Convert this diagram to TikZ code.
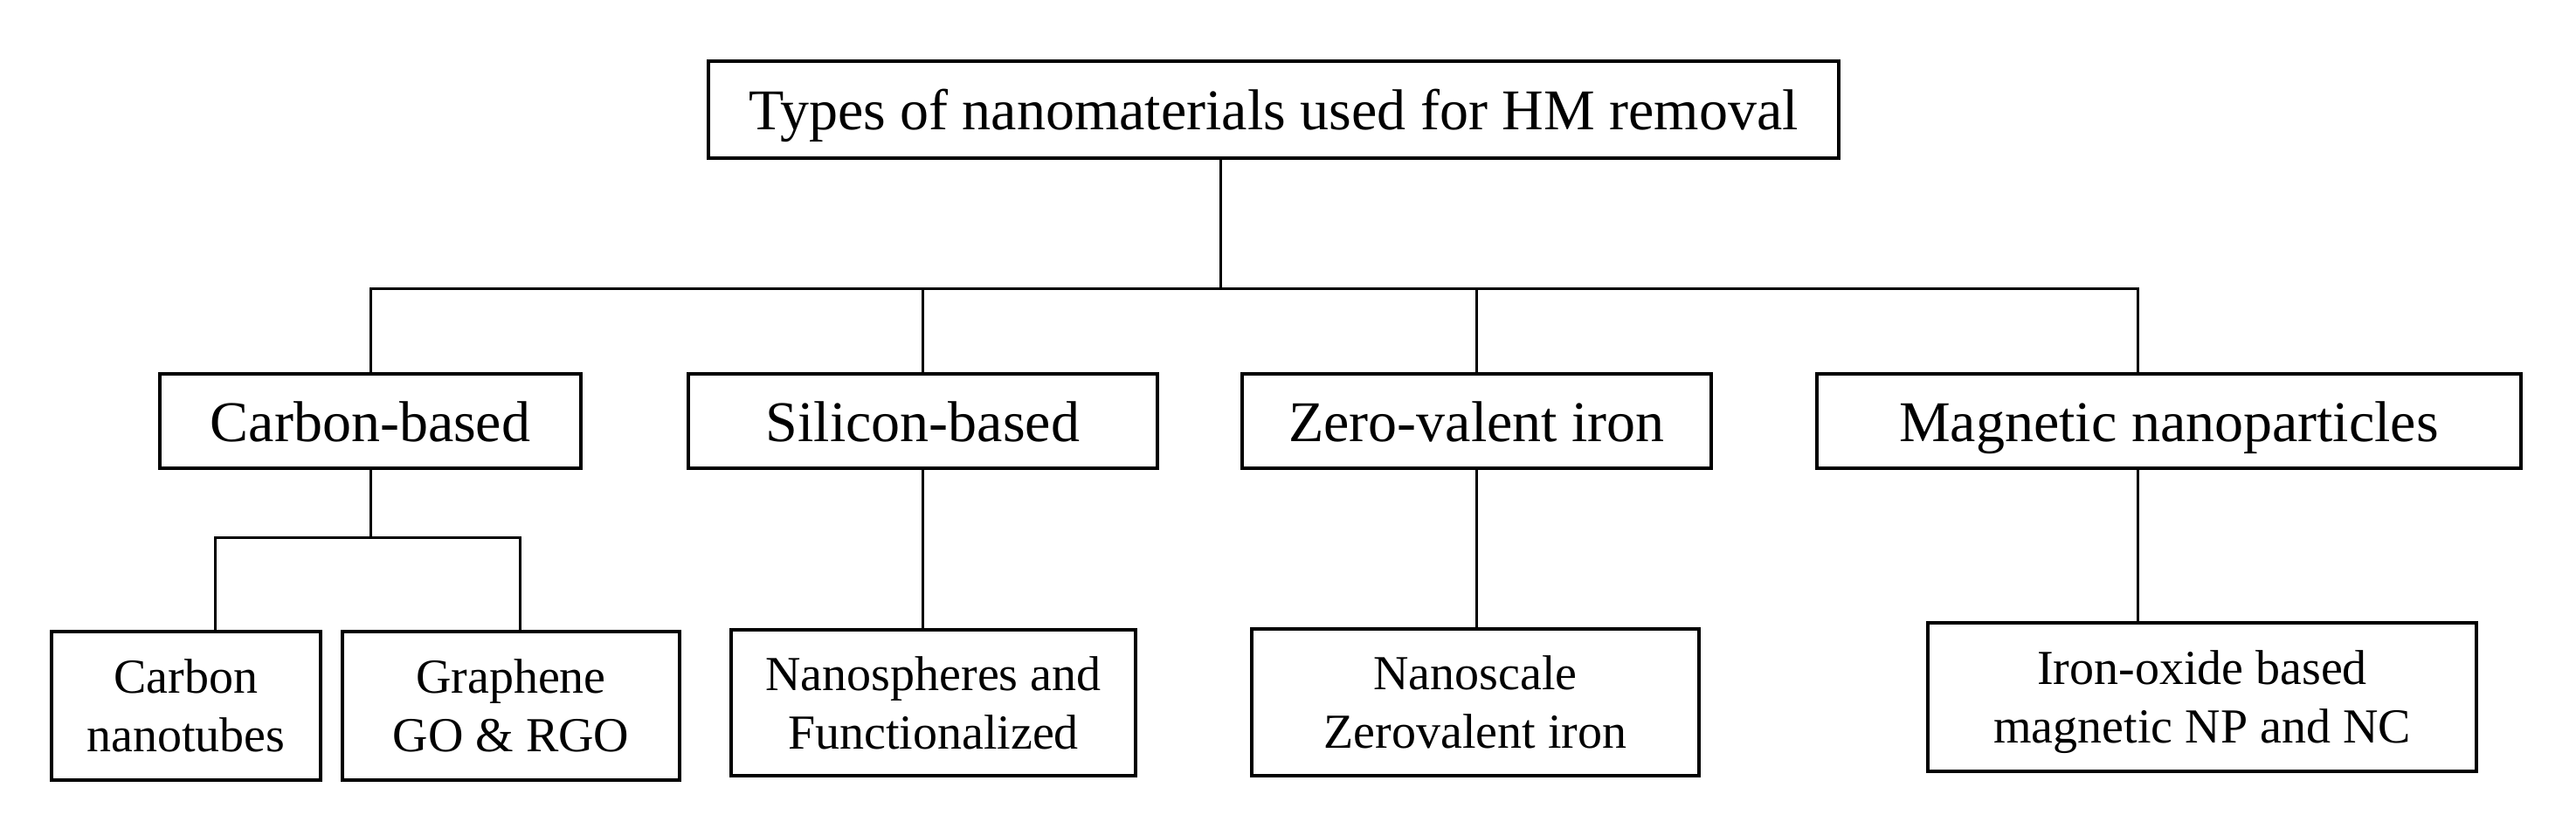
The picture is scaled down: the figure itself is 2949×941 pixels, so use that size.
\documentclass[tikz,border=0pt]{standalone}
\usepackage{fontspec}
\setmainfont{Liberation Serif}
\begin{document}
\begin{tikzpicture}[x=1pt,y=-1pt,
  box/.style={draw, line width=3.5pt, inner sep=0pt, align=center},
  big/.style={box, font=\fontsize{66}{70}\selectfont, text height=52pt, text depth=6pt},
  small/.style={box, font=\fontsize{56}{67}\selectfont},
  link/.style={line width=3pt}]
\useasboundingbox (0,0) rectangle (2949,941);
\node[big, minimum width=1294pt, minimum height=111pt] (title) at (1458,125.5) {Types of nanomaterials used for HM removal};
\node[big, minimum width=482pt, minimum height=108pt] (carbon) at (424,482) {Carbon-based};
\node[big, minimum width=537pt, minimum height=108pt] (silicon) at (1056.5,482) {Silicon-based};
\node[big, minimum width=537pt, minimum height=108pt] (zero) at (1690.5,482) {Zero-valent iron};
\node[big, minimum width=806pt, minimum height=108pt] (magnetic) at (2483,482) {Magnetic nanoparticles};
\node[small, minimum width=308pt, minimum height=170pt] (cnt) at (213,808) {Carbon\\nanotubes};
\node[small, minimum width=386pt, minimum height=170pt] (graphene) at (585,808) {Graphene\\GO \& RGO};
\node[small, minimum width=463pt, minimum height=167pt] (nanosph) at (1068.5,804.5) {Nanospheres and\\Functionalized};
\node[small, minimum width=512pt, minimum height=168pt] (nzvi) at (1689,804) {Nanoscale\\Zerovalent iron};
\node[small, minimum width=628pt, minimum height=170pt, text depth=0pt] (ironox) at (2521,798) {Iron-oxide based\\magnetic NP and NC};
\coordinate (j0) at (1397,330);
\coordinate (barR) at (2447,330);
\coordinate (cj) at (423,615);
\coordinate (cl) at (246,615);
\coordinate (cr) at (595,615);
\draw[link] (title.south -| j0) -- (j0);
\draw[link] (carbon.north) |- (barR) -- (barR |- magnetic.north);
\draw[link] (silicon.north) -- (silicon.north |- barR);
\draw[link] (zero.north) -- (zero.north |- barR);
\draw[link] (carbon.south) -- (carbon.south |- cj);
\draw[link] (cl |- cnt.north) |- (cr) -- (cr |- graphene.north);
\draw[link] (silicon.south) -- (silicon.south |- nanosph.north);
\draw[link] (zero.south) -- (zero.south |- nzvi.north);
\draw[link] (barR |- magnetic.south) -- (barR |- ironox.north);
\end{tikzpicture}
\end{document}
